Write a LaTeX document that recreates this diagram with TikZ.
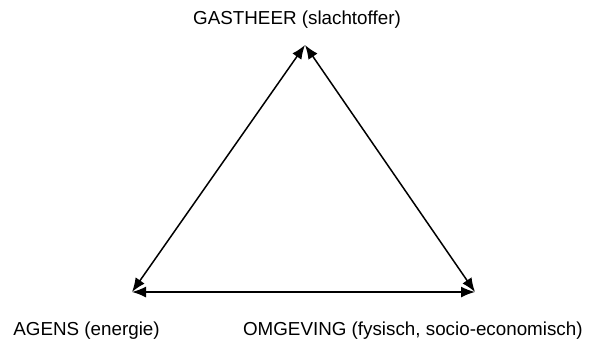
\documentclass[tikz,border=0pt]{standalone}
\usepackage{fontspec}
\setmainfont{Liberation Sans}
\usetikzlibrary{arrows.meta}
\begin{document}
\begin{tikzpicture}[x=0.5pt,y=-0.5pt,
  tip/.tip={Latex[length=7pt,width=5.5pt]},
  edge/.style={line width=0.75pt,tip-tip},
  lbl/.style={inner sep=0pt,font=\fontsize{9.4}{11}\selectfont}]
\useasboundingbox (0,0) rectangle (594,343);
\coordinate (top) at (305,45);
\coordinate (bl) at (132,292);
\coordinate (br) at (475,292);
\draw[edge] (top) -- (bl);
\draw[edge] (top) -- (br);
\draw[edge] (bl) -- (br);
\node[lbl,anchor=base] (gast) at (297,24) {GASTHEER (slachtoffer)};
\node[lbl,anchor=base west] (agens) at (13,335) {AGENS (energie)};
\node[lbl,anchor=base east] (omg) at (583,335) {OMGEVING (fysisch, socio-economisch)};
\end{tikzpicture}
\end{document}
